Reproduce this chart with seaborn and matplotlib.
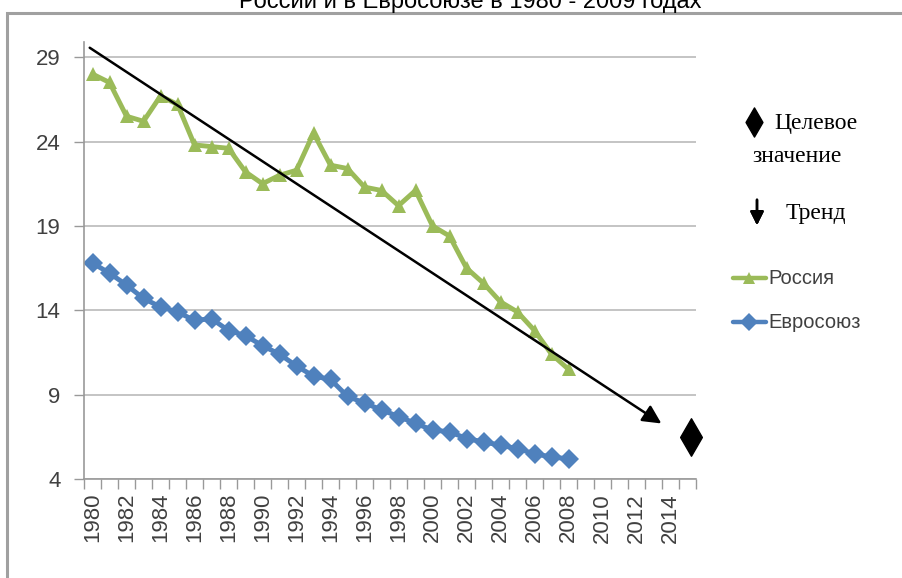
import numpy as np
import pandas as pd
import seaborn as sns
import matplotlib.pyplot as plt
from matplotlib.lines import Line2D
from matplotlib.patches import Rectangle
from matplotlib.path import Path

# values
years = list(range(1980, 2009))
russia = [28.0, 27.5, 25.5, 25.2, 26.7, 26.2, 23.8, 23.7, 23.6, 22.2,
          21.5, 22.0, 22.3, 24.5, 22.6, 22.4, 21.3, 21.1, 20.2, 21.1,
          19.0, 18.4, 16.5, 15.6, 14.5, 13.9, 12.8, 11.4, 10.5]
eu = [16.8, 16.2, 15.5, 14.7, 14.2, 13.9, 13.4, 13.5, 12.8, 12.5,
      11.9, 11.4, 10.7, 10.1, 9.9, 8.9, 8.5, 8.1, 7.7, 7.3,
      6.9, 6.8, 6.4, 6.2, 6.0, 5.8, 5.5, 5.3, 5.2]
trend_start = (1979.7, 29.65)
trend_end = (2013.6, 7.2)
target_year, target_value = 2015.2, 6.5
y_ticks = [4, 9, 14, 19, 24, 29]
x_labels = list(range(1980, 2016, 2))

W, H = 903, 578


def fx(px):
    return px / W


def fy(py):
    return 1 - py / H


sns.set_theme(style='white')
plt.rcParams['font.family'] = ['Liberation Sans', 'DejaVu Sans']

df = pd.concat([
    pd.DataFrame({'year': years, 'value': russia, 'region': 'Россия'}),
    pd.DataFrame({'year': years, 'value': eu, 'region': 'Евросоюз'}),
])

fig = plt.figure(figsize=(W / 100, H / 100), dpi=100)
ax = fig.add_axes([fx(84), fy(479), fx(696) - fx(84), fy(42) - fy(479)])

palette = {'Россия': '#9BBB59', 'Евросоюз': '#4F81BD'}
sns.lineplot(data=df, x='year', y='value', hue='region', style='region',
             palette=palette, markers={'Россия': '^', 'Евросоюз': 'D'},
             dashes=False, lw=3.5, markersize=10.5, markeredgewidth=0,
             ax=ax, legend=False)

ax.set_xlim(1979.5, 2015.5)
ax.set_ylim(4, 29.9)
ax.set_yticks(y_ticks)
ax.set_xticks(x_labels)
ax.set_xticklabels([str(x) for x in x_labels], rotation=90)
ax.set_xticks(np.arange(1979.5, 2016, 1), minor=True)
ax.tick_params(axis='x', which='major', length=0, pad=10, labelsize=16, colors='#404040')
ax.tick_params(axis='x', which='minor', bottom=True, length=7, width=1, color='#999999', direction='out')
ax.tick_params(axis='y', left=True, length=7, width=1, color='#999999', labelsize=16,
               labelcolor='#404040', pad=10)
ax.set_xlabel('')
ax.set_ylabel('')
ax.grid(axis='y', color='#BFBFBF', lw=1.3)
ax.grid(axis='x', visible=False)
for s in ['top', 'right']:
    ax.spines[s].set_visible(False)
for s in ['left', 'bottom']:
    ax.spines[s].set_color('#999999')
    ax.spines[s].set_linewidth(1.2)

# trend arrow
ax.annotate('', xy=trend_end, xytext=trend_start,
            arrowprops=dict(arrowstyle='-|>', mutation_scale=28, lw=1.8, color='black'),
            annotation_clip=False)

# target value marker
diamond = Path([(0, 1), (0.58, 0), (0, -1), (-0.58, 0), (0, 1)],
               [Path.MOVETO, Path.LINETO, Path.LINETO, Path.LINETO, Path.CLOSEPOLY])
ax.plot([target_year], [target_value], marker=diamond, ms=27, color='black', clip_on=False)

# frame of the chart
fig.add_artist(Rectangle((fx(7), fy(H + 20)), 1.2, fy(13) - fy(H + 20),
                         transform=fig.transFigure, fill=False, ec='#A0A0A0', lw=2.2))

# title (cut off at the top, as in the source)
fig.text(fx(470), fy(8), 'России и в Евросоюзе в 1980 - 2009 годах',
         ha='center', va='baseline', fontsize=17, color='black')

# legend-like labels
fig.add_artist(Line2D([fx(754)], [fy(122)], marker=diamond, ms=21, color='black',
                      transform=fig.transFigure))
fig.text(fx(816), fy(123), 'Целевое', ha='center', va='center', fontsize=17,
         family='Liberation Serif', color='black')
fig.text(fx(797), fy(156), 'значение', ha='center', va='center', fontsize=17,
         family='Liberation Serif', color='black')
fig.add_artist(plt.annotate('', xy=(fx(757), fy(228)), xytext=(fx(757), fy(197)),
                            xycoords='figure fraction',
                            arrowprops=dict(arrowstyle='-|>', mutation_scale=20, lw=1.8,
                                            color='black')))
fig.text(fx(786), fy(213), 'Тренд', ha='left', va='center', fontsize=17,
         family='Liberation Serif', color='black')

for label, ypix in [('Россия', 278), ('Евросоюз', 322)]:
    mk = '^' if label == 'Россия' else 'D'
    fig.add_artist(Line2D([fx(733), fx(766)], [fy(ypix), fy(ypix)], color=palette[label],
                          lw=3.2, transform=fig.transFigure))
    fig.add_artist(Line2D([fx(749.5)], [fy(ypix)], marker=mk, ms=9, mew=0,
                          color=palette[label], transform=fig.transFigure))
    fig.text(fx(768), fy(ypix), label, ha='left', va='center', fontsize=14.5, color='#404040')

fig.savefig('out.png', dpi=100)
